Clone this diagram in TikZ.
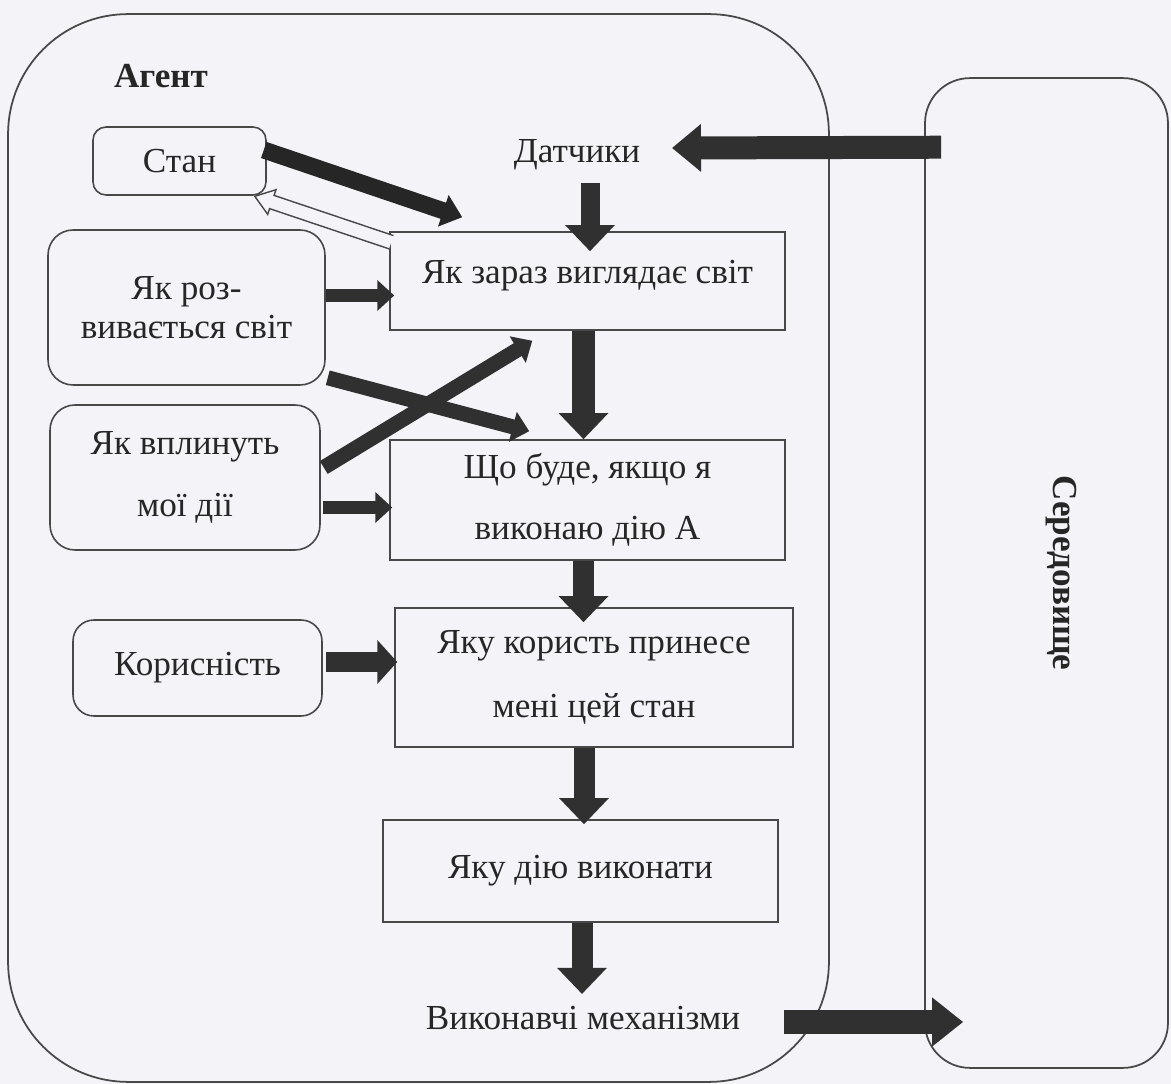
\documentclass[tikz,border=0pt]{standalone}
\usepackage{fontspec}
\setmainfont{Liberation Serif}
\usetikzlibrary{arrows.meta,calc}
\definecolor{paper}{RGB}{243,243,248}
\definecolor{ink}{RGB}{38,38,38}
\definecolor{frame}{RGB}{72,72,72}
\definecolor{arrowfill}{RGB}{48,48,48}

\begin{document}
\begin{tikzpicture}[x=0.02cm,y=-0.02cm,
  txt/.style={text=ink, font=\fontsize{20}{24}\selectfont},
  boldtxt/.style={text=ink, font=\fontsize{20}{24}\selectfont\bfseries},
  procbox/.style={txt, draw=frame, line width=0.9pt, rectangle, inner sep=0pt, align=center},
  knowbox/.style={txt, draw=frame, line width=0.9pt, rectangle, inner sep=0pt, align=center},
  container/.style={draw=frame, line width=1pt, rectangle, inner sep=0pt},
  bigarrow/.style={draw=arrowfill, line width=0.42cm, -{Triangle[width=0.96cm,length=0.52cm]}},
  sidearrow/.style={draw=arrowfill, line width=0.3cm, -{Triangle[width=0.64cm,length=0.4cm]}},
  thinarrow/.style={draw=arrowfill, line width=0.27cm, -{Triangle[width=0.6cm,length=0.34cm]}},
  hollowarrow/.style={draw=frame, line width=0.8pt, fill=paper},
]
% page and background
\useasboundingbox (0,0) rectangle (1171,1084);
\fill[paper] (0,0) rectangle (1171,1084);

% the two containers
\node[container, rounded corners=2.4cm, minimum width=16.42cm, minimum height=21.36cm] (agent) at (418.5,548) {};
\node[container, rounded corners=0.9cm, minimum width=4.86cm, minimum height=19.8cm] (env) at (1046.5,573) {};
\node[boldtxt] (agentlabel) at (161,76) {Агент};
\node[boldtxt, rotate=-90] (envlabel) at (1061,573) {Середовище};

% processing chain
\node[txt] (sens) at (577,155) {Датчики};
\node[procbox, minimum width=7.9cm, minimum height=1.96cm, text depth=0.36cm] (b1) at (587.5,281) {Як зараз виглядає світ};
\node[procbox, minimum width=7.9cm, minimum height=2.4cm, font=\fontsize{20}{35}\selectfont] (b2) at (587.5,500) {Що буде, якщо я\\виконаю дію А};
\node[procbox, minimum width=7.96cm, minimum height=2.78cm, font=\fontsize{20}{36}\selectfont] (b3) at (594,677.5) {Яку користь принесе\\мені цей стан};
\node[procbox, minimum width=7.9cm, minimum height=2.04cm] (b4) at (580.5,871) {Яку дію виконати};
\node[txt] (act) at (583,1018) {Виконавчі механізми};

% knowledge boxes
\node[knowbox, rounded corners=0.26cm, minimum width=3.46cm, minimum height=1.36cm] (stan) at (179.5,161) {Стан};
\node[knowbox, rounded corners=0.5cm, minimum width=5.54cm, minimum height=3.1cm, font=\fontsize{20}{22}\selectfont] (rozv) at (186.5,307.5) {Як роз-\\вивається світ};
\node[knowbox, rounded corners=0.5cm, minimum width=5.4cm, minimum height=2.9cm, font=\fontsize{20}{35}\selectfont] (vplyn) at (185,477.5) {Як вплинуть\\мої дії};
\node[knowbox, rounded corners=0.42cm, minimum width=4.98cm, minimum height=1.92cm] (kor) at (197.5,668) {Корисність};

% arrow end points
\coordinate (e1) at ($(env.north west)+(17,70)$);
\coordinate (s0) at ($(sens.center)+(13,28)$);
\coordinate (c12a) at ($(b1.south)+(-4,0)$);
\coordinate (c23a) at ($(b2.south)+(-4,0)$);
\coordinate (c34a) at ($(b3.south)+(-10,0)$);
\coordinate (c45a) at ($(b4.south)+(1.5,0)$);
\coordinate (a1) at ($(act.east)+(38,4)$);
\coordinate (st1) at ($(stan.east)+(-3,-11)$);
\coordinate (st2) at ($(b1.north west)+(73,-14)$);
\coordinate (r1) at ($(rozv.east)+(0,-12)$);
\coordinate (r2a) at ($(rozv.south east)+(2,-8)$);
\coordinate (r2b) at ($(b2.north west)+(140,-8)$);
\coordinate (v1a) at ($(vplyn.east)+(3,-10)$);
\coordinate (v1b) at ($(b1.south west)+(143,10)$);
\coordinate (v2) at ($(vplyn.east)+(2,30)$);
\coordinate (k1) at ($(kor.east)+(3,-6)$);

% environment -> sensors, actuators -> environment
\draw[bigarrow, line width=0.46cm, -{Triangle[width=0.92cm,length=0.58cm]}] (e1) -- ($(sens.center)+(95,-7)$);
\draw[bigarrow, line width=0.5cm, -{Triangle[width=0.94cm,length=0.62cm]}] (a1) -- ($(a1 -| env.west)+(39,0)$);

% main vertical chain
\draw[bigarrow, line width=0.38cm] (s0) -- ($(s0 |- b1.north)+(0,20)$);
\draw[bigarrow, line width=0.46cm] (c12a) -- (c12a |- b2.north);
\draw[bigarrow] (c23a) -- ($(c23a |- b3.north)+(0,15)$);
\draw[bigarrow] (c34a) -- ($(c34a |- b4.north)+(0,5)$);
\draw[bigarrow] (c45a) -- ($(c45a |- act.north)+(0,-6)$);

% state and models feeding the chain
\draw[sidearrow, draw=black!85, line width=0.34cm] (st1) -- (st2);
\draw[thinarrow] (r1) -- ($(r1 -| b1.west)+(5,0)$);
\draw[thinarrow, line width=0.3cm] (r2a) -- (r2b);
\draw[thinarrow, line width=0.3cm] (v1a) -- (v1b);
\draw[thinarrow] (v2) -- ($(v2 -| b2.west)+(3,0)$);
\draw[sidearrow, line width=0.4cm, -{Triangle[width=0.86cm,length=0.4cm]}] (k1) -- ($(k1 -| b3.west)+(3,0)$);

% hollow feedback arrow back to the state
\begin{scope}[shift={($(b1.north west)+(2,11)$)}, rotate=161.4]
  \draw[hollowarrow] (0,-7) -- (126,-7) -- (126,-13) -- (144,0) -- (126,13) -- (126,7) -- (0,7);
\end{scope}
\end{tikzpicture}
\end{document}
